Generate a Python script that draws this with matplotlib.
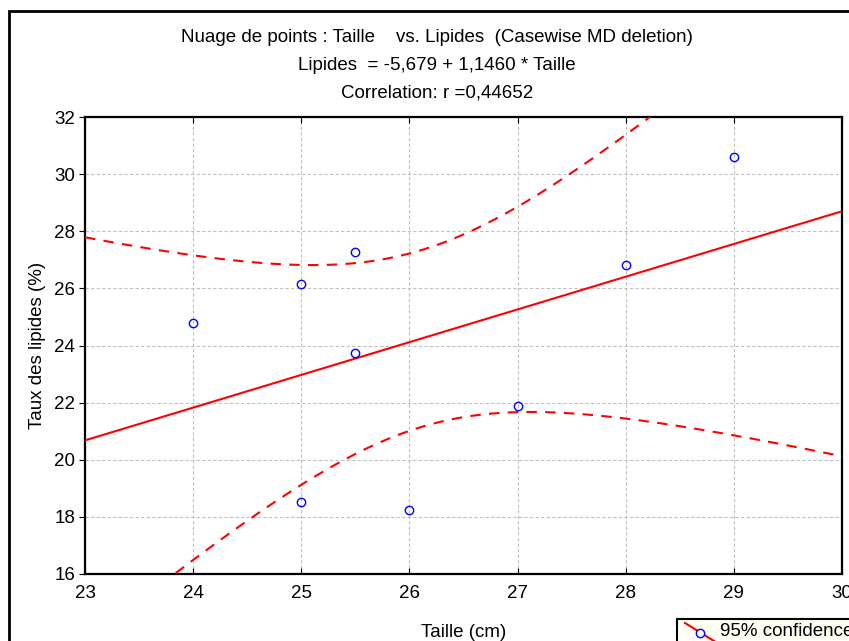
import numpy as np
import matplotlib
matplotlib.use("Agg")
import matplotlib.pyplot as plt
from matplotlib.patches import Rectangle
from matplotlib.lines import Line2D

# data
taille = [24, 25, 25, 25.5, 25.5, 26, 27, 28, 29]
lipides = [24.8, 26.15, 18.52, 27.27, 23.74, 18.25, 21.88, 26.82, 30.6]

intercept = -5.679
slope = 1.1460
t_975_df7 = 2.3646  # student t, 95%, 9 - 2 dof

xticks = [23, 24, 25, 26, 27, 28, 29, 30]
yticks = [16, 18, 20, 22, 24, 26, 28, 30, 32]

plt.rcParams['font.family'] = ['Liberation Sans', 'DejaVu Sans']
fs = 13.5

fig = plt.figure(figsize=(8.49, 6.41), dpi=100)
ax = fig.add_axes([85 / 849, 1 - 574 / 641, 757 / 849, 457 / 641])

# regression line and 95% confidence band of the mean
x = np.array(taille)
y = np.array(lipides)
n = len(x)
xs = np.linspace(23, 30, 300)
fit = intercept + slope * xs
resid = y - (intercept + slope * x)
s = np.sqrt(np.sum(resid ** 2) / (n - 2))
sxx = np.sum((x - x.mean()) ** 2)
half = t_975_df7 * s * np.sqrt(1 / n + (xs - x.mean()) ** 2 / sxx)

red = '#ff0000'
ax.plot(xs, fit, color=red, lw=1.5, zorder=3)
ax.plot(xs, fit + half, color=red, lw=1.5, ls=(0, (5, 4)), zorder=3)
ax.plot(xs, fit - half, color=red, lw=1.5, ls=(0, (5, 4)), zorder=3)
ax.plot(taille, lipides, 'o', mfc='none', mec='#0000ff', mew=1.0, ms=6, zorder=4)

ax.set_xlim(23, 30)
ax.set_ylim(16, 32)
ax.set_xticks(xticks)
ax.set_yticks(yticks)
ax.grid(True, color='#c0c0c0', ls=(0, (3, 2)), lw=0.8)
ax.set_axisbelow(True)
for sp in ax.spines.values():
    sp.set_linewidth(1.6)
ax.tick_params(axis='x', direction='in', length=4, labelsize=fs, pad=8, top=True)
ax.tick_params(axis='y', direction='out', length=4, labelsize=fs, pad=3)

ax.set_xlabel('Taille (cm)', fontsize=fs, labelpad=16)
ax.set_ylabel('Taux des lipides (%)', fontsize=fs, labelpad=6)

# three line title
fig.text(437 / 849, 1 - 37 / 641, 'Nuage de points : Taille    vs. Lipides  (Casewise MD deletion)',
         ha='center', va='center', fontsize=fs)
fig.text(437 / 849, 1 - 65 / 641, 'Lipides  = -5,679 + 1,1460 * Taille',
         ha='center', va='center', fontsize=fs)
fig.text(437 / 849, 1 - 93 / 641, 'Correlation: r =0,44652',
         ha='center', va='center', fontsize=fs)

# outer frame (cut off at right and bottom)
fig.patches.append(Rectangle((9 / 849, -0.1), 1.2, 1 - 11 / 641 + 0.1, transform=fig.transFigure,
                             fill=False, ec='black', lw=2, clip_on=False))

# legend box, cut off at the edge
fig.patches.append(Rectangle((677 / 849, -0.1), 0.3, 0.1 + 1 - 619 / 641, transform=fig.transFigure,
                             fc='#fffff8', ec='black', lw=1.5, clip_on=False))
fig.lines.append(Line2D([685 / 849, 714 / 849], [1 - 623 / 641, 1 - 641 / 641], transform=fig.transFigure,
                        color=red, lw=1.5))
fig.lines.append(Line2D([700 / 849], [1 - 633 / 641], transform=fig.transFigure, marker='o',
                        mfc='#fffff8', mec='#0000ff', ms=6, mew=1.0))
fig.text(720 / 849, 1 - 632 / 641, '95% confidence', ha='left', va='center', fontsize=fs)

fig.savefig('out.png', dpi=100)
